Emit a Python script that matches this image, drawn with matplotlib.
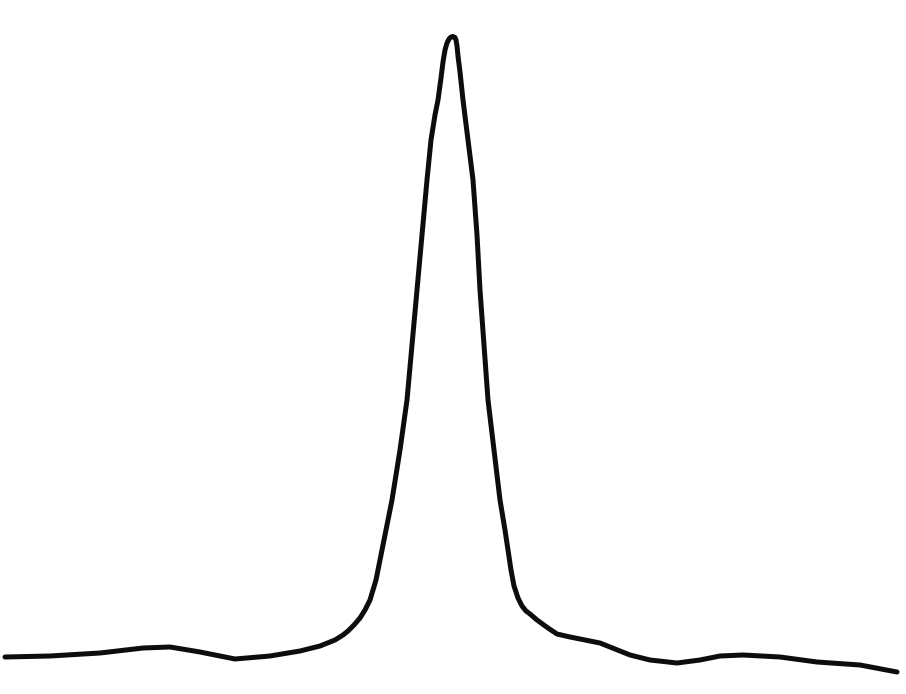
import matplotlib
matplotlib.use("Agg")
import matplotlib.pyplot as plt

# Recorder trace: chart position (left to right) and pen height above bottom edge
position = [5, 50, 100, 143, 170, 200, 235, 270, 300, 320, 335, 343, 348, 354, 360,
            365, 370, 376, 382, 387, 392, 400, 407, 412, 417, 422, 427, 431, 435, 438,
            441, 443, 445, 447, 449, 451, 453, 455, 456, 457, 458, 460, 463, 468,
            473, 477, 480, 484, 488, 494, 500, 505, 508, 511, 514, 518, 522, 526,
            530, 537, 548, 557, 570, 600, 630, 650, 677, 700, 720, 743, 780, 817,
            860, 897]
pen_from_top = [657, 656, 653, 648, 647, 652, 659, 656, 651, 646, 640, 635, 631, 625, 618,
                610, 600, 580, 550, 525, 500, 450, 400, 345, 290, 235, 180, 140, 115, 100,
                78, 62, 50, 43, 39, 37, 36.5, 37.5, 40, 46, 56, 72, 100, 140,
                180, 235, 290, 345, 400, 450, 500, 530, 550, 570, 586, 598, 606, 611,
                614, 620, 628, 634, 637, 643, 655, 660, 663, 660, 656, 655, 657, 662,
                665, 672]

chart_height = 694
signal = [chart_height - p for p in pen_from_top]

fig = plt.figure(figsize=(9.06, 6.94), dpi=100)
ax = fig.add_axes([0, 0, 1, 1])
ax.plot(position, signal, color="#0d0d0d", linewidth=3.6,
        solid_joinstyle="round", solid_capstyle="round")
ax.set_xlim(0, 906)
ax.set_ylim(0, chart_height)
ax.axis("off")

fig.savefig("out.png", dpi=100)
